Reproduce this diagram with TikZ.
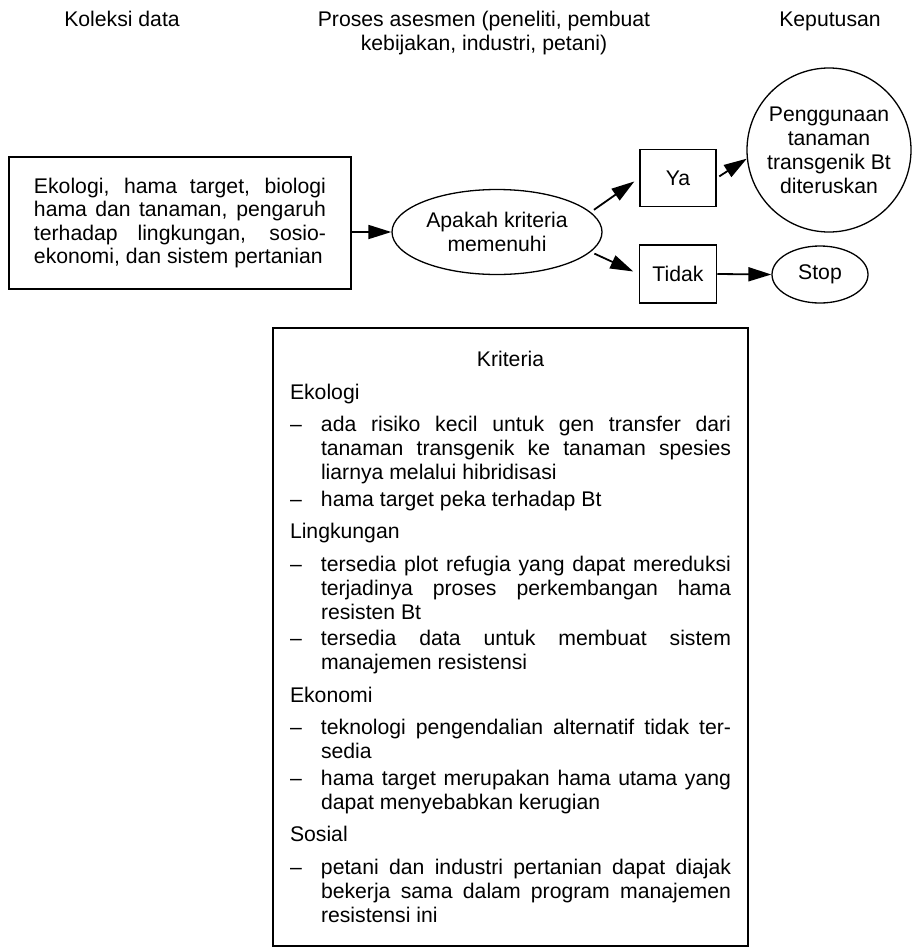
\documentclass[tikz,border=0pt]{standalone}
\usepackage{fontspec}
\setmainfont{Liberation Sans}
\usepackage{tikz}
\usetikzlibrary{arrows.meta,shapes.geometric}

% butir daftar dengan tanda pisah
\newcommand{\butir}[1]{\par\hangindent=31pt\hangafter=1\noindent
  \makebox[31pt][l]{--}#1\par}

\begin{document}
\begin{tikzpicture}[x=1pt,y=-1pt,
      font=\fontsize{21.2pt}{24pt}\selectfont,
      box/.style={draw,rectangle,line width=1.6pt,inner sep=0pt},
      oval/.style={draw,ellipse,line width=1.3pt,inner sep=0pt,align=center},
      arr/.style={-{Triangle[length=23pt,width=14pt]},line width=1.8pt}]
    \useasboundingbox (0,0) rectangle (913,951);
    \clip (0,0) rectangle (913,951);
    \tolerance=10000 \hbadness=10000 \hyphenpenalty=10000
    % judul kolom
    \node[anchor=base] (koleksi) at (122,26) {Koleksi data};
    \node[anchor=base,align=center] (proses) at (484,50)
      {Proses asesmen (peneliti, pembuat\\kebijakan, industri, petani)};
    \node[anchor=base] (putusan) at (830,26) {Keputusan};
    % alur
    \node[box,minimum width=342pt,minimum height=132pt,text width=292pt,
          align=justify,font=\fontsize{21.2pt}{23.4pt}\selectfont] (data) at (180,223)
      {Ekologi, hama target, biologi\linebreak hama dan tanaman, pengaruh\linebreak
       terhadap lingkungan, sosio-\linebreak ekonomi, dan sistem pertanian};
    \node[oval,minimum width=210pt,minimum height=85pt] (apakah) at (497,232)
      {Apakah kriteria\\memenuhi};
    \node[box,line width=1.5pt,minimum width=76pt,minimum height=57pt] (ya) at (678,178) {Ya};
    \node[box,line width=1.5pt,minimum width=77pt,minimum height=58pt] (tidak) at (678,274) {Tidak};
    \node[oval,circle,minimum size=164pt] (lanjut) at (829,150)
      {Penggunaan\\tanaman\\transgenik Bt\\diteruskan};
    \node[oval,minimum width=96pt,minimum height=57pt] (stop) at (820,274.5) {Stop};
    \draw[arr] (data.east |- apakah.west) -- (apakah.west);
    \draw[arr,shorten <=4pt,shorten >=6pt] (apakah.12) -- (ya.west);
    \draw[arr,shorten <=4pt,shorten >=6pt] (apakah.-12) -- (tidak.west);
    \draw[arr,shorten <=3pt] (ya.east) -- (lanjut.186);
    \draw[arr] (tidak.east) -- (stop.west);
    % kotak kriteria
    \node[box,line width=2pt,anchor=north,text width=441pt,inner xsep=17pt,
          inner ysep=23.4pt,align=justify] (kriteria) at (510.5,327)
      {\setlength{\parskip}{2.5pt}%
       {\centering Kriteria\par}
       \vspace{6pt}
       Ekologi\par
       \vspace{6pt}
       \butir{ada risiko kecil untuk gen transfer dari\linebreak tanaman transgenik
         ke tanaman spesies\linebreak liarnya melalui hibridisasi}
       \butir{hama target peka terhadap Bt}
       \vspace{6pt}
       Lingkungan\par
       \vspace{6pt}
       \butir{tersedia plot refugia yang dapat mereduksi\linebreak terjadinya proses
         perkembangan hama\linebreak resisten Bt}
       \butir{tersedia data untuk membuat sistem\linebreak manajemen resistensi}
       \vspace{6pt}
       Ekonomi\par
       \vspace{6pt}
       \butir{teknologi pengendalian alternatif tidak ter-\linebreak sedia}
       \butir{hama target merupakan hama utama yang\linebreak dapat menyebabkan kerugian}
       \vspace{6pt}
       Sosial\par
       \vspace{6pt}
       \butir{petani dan industri pertanian dapat diajak\linebreak bekerja sama dalam
         program manajemen\linebreak resistensi ini}
       \vspace*{110pt}};
\end{tikzpicture}
\end{document}
